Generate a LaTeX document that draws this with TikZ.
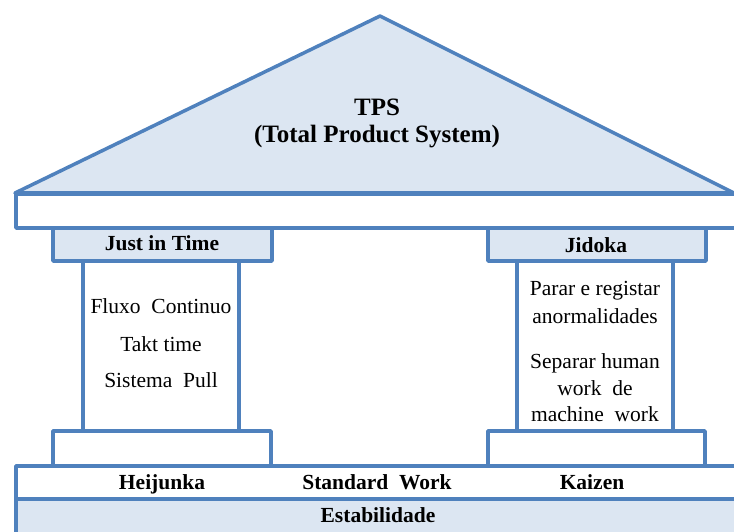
\documentclass[tikz,border=0pt]{standalone}
\usepackage{fontspec}
\setmainfont{Liberation Serif}
\definecolor{edge}{RGB}{79,129,189}
\definecolor{pale}{RGB}{220,230,242}
\newcommand{\wsp}{\hspace{0.5em}}
\begin{document}
\begin{tikzpicture}[x=1pt,y=-1pt,
  part/.style={draw=edge, line width=3.5pt, line join=round},
  title/.style={font=\fontsize{25}{30}\selectfont\bfseries, anchor=base, inner sep=0pt},
  lbl/.style={font=\fontsize{21.5}{26}\selectfont\bfseries, anchor=base, inner sep=0pt},
  txt/.style={font=\fontsize{21.5}{26}\selectfont, anchor=base, inner sep=0pt}]
\useasboundingbox (0,0) rectangle (734,532);
\clip (0,0) rectangle (734,532);

% roof
\draw[part, fill=pale] (15,193) -- (380,16) -- (734,193) -- cycle;
% beam under the roof
\draw[part, fill=white] (16,194) rectangle (750,228);

% pillar capitals
\draw[part, fill=pale] (53,228) rectangle (272,261);
\draw[part, fill=pale] (488,228) rectangle (706,261);
% pillar shafts
\draw[part, fill=white] (83,261) rectangle (239,431);
\draw[part, fill=white] (517,261) rectangle (673,431);
% pillar bases
\draw[part, fill=white] (53,431) rectangle (271,466);
\draw[part, fill=white] (488,431) rectangle (705,466);

% foundation
\draw[part, fill=white] (16,466) rectangle (750,499);
\draw[part, fill=pale] (16,499) rectangle (750,545);

% texts
\node[title] (tps) at (377,116) {TPS};
\node[title] (tpsname) at (377,143) {(Total Product System)};

\node[lbl] (jit) at (162,251) {Just in Time};
\node[lbl] (jidoka) at (596,252) {Jidoka};

\node[txt] (fluxo) at (161,313) {Fluxo\wsp Continuo};
\node[txt] (takt) at (161,351) {Takt time};
\node[txt] (pull) at (161,387) {Sistema\wsp Pull};

\node[txt] (parar) at (595,295) {Parar e registar};
\node[txt] (anorm) at (595,323) {anormalidades};
\node[txt] (sep) at (595,368) {Separar human};
\node[txt] (workde) at (595,395) {work\wsp de};
\node[txt] (machine) at (595,421) {machine\wsp work};

\node[lbl] (heijunka) at (162,489) {Heijunka};
\node[lbl] (stdwork) at (377,489) {Standard\wsp Work};
\node[lbl] (kaizen) at (592,489) {Kaizen};
\node[lbl] (estab) at (378,522) {Estabilidade};
\end{tikzpicture}
\end{document}
